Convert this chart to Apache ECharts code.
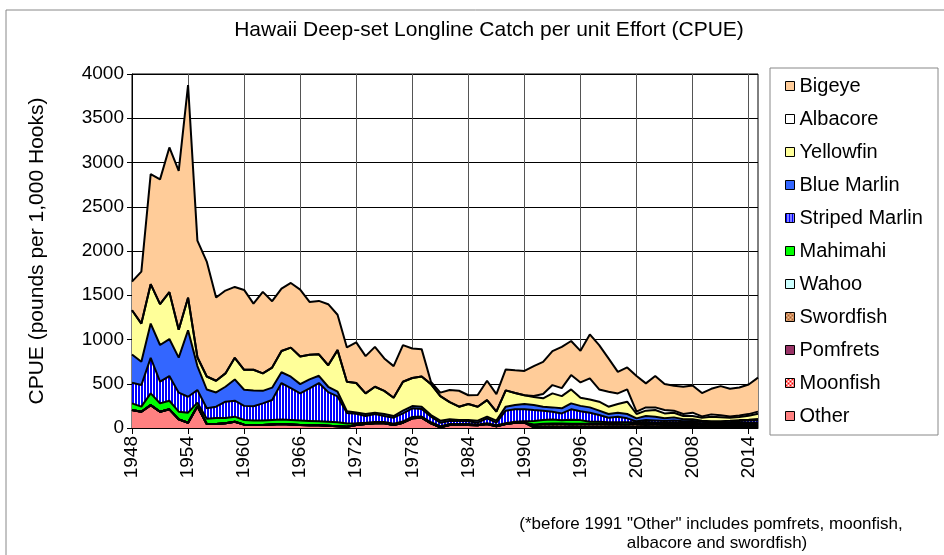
<!DOCTYPE html>
<html>
<head>
<meta charset="utf-8">
<script src="https://cdn.jsdelivr.net/npm/echarts@6/dist/echarts.min.js"></script>
<style>
  html, body { margin: 0; padding: 0; background: #fff; }
  #chart { width: 944px; height: 555px; }
</style>
</head>
<body>
<div id="chart"></div>
<script>
// years on the x axis
const years = []
for (let y = 1948; y <= 2015; y++) years.push(String(y))

const yTicks = [0, 500, 1000, 1500, 2000, 2500, 3000, 3500, 4000]

// CPUE per species (pounds per 1,000 hooks), 1948..2015
const other = [203,184,259,184,211,98,60,245,45,45, 53,71,38,35,35,40,45,40,35,30, 30,25,20,15,34,45,53,53,34,60, 109,117,53,8,34,34,34,30,45,20, 45,60,60,
  5,6,5,4,5,5,4,4,3,4, 3,3,3,3,2,3,3,2,2,3, 2,2,3,3,3]
const moonfish = [0,0,0,0,0,0,0,0,0,0, 0,0,0,0,0,0,0,0,0,0, 0,0,0,0,0,0,0,0,0,0, 0,0,0,0,0,0,0,0,0,0, 0,0,0,
  5,6,5,6,7,6,6,5,6,5, 6,7,8,7,8,6,7,8,6,7, 7,8,7,8,9]
const pomfrets = [0,0,0,0,0,0,0,0,0,0, 0,0,0,0,0,0,0,0,0,0, 0,0,0,0,0,0,0,0,0,0, 0,0,0,0,0,0,0,0,0,0, 0,0,0,
  4,5,6,5,6,7,6,8,7,8, 9,10,12,11,12,13,12,14,13,12, 14,13,15,14,16]
const swordfish = [0,0,0,0,0,0,0,0,0,0, 0,0,0,0,0,0,0,0,0,0, 0,0,0,0,0,0,0,0,0,0, 0,0,0,0,0,0,0,0,0,0, 0,0,0,
  18,22,25,24,20,22,24,26,22,20, 18,22,20,18,16,18,16,15,14,16, 15,14,16,15,16]
const wahoo = [0,0,0,0,0,0,0,0,0,0, 0,0,0,0,0,0,0,0,0,0, 0,0,0,0,0,0,0,0,0,0, 0,0,0,0,0,0,0,0,0,0, 0,0,0,
  8,10,9,11,10,9,8,7,8,9, 7,8,6,7,8,7,6,7,6,5, 6,7,6,6,7]
const mahimahi = [75,57,132,94,97,86,113,41,60,68, 60,57,52,50,50,50,50,50,50,50, 45,45,45,35,20,15,15,15,15,15, 15,13,12,12,11,11,11,10,10,10, 10,10,15,
  40,42,45,38,44,40,22,20,18,20, 22,15,18,16,14,15,12,14,12,13, 12,14,12,13,12]
const stripedMarlin = [233,244,402,245,279,215,180,144,119,128, 184,180,160,160,193,226,413,361,306,367, 433,335,292,120,106,75,90,67,68,90, 98,84,63,40,34,34,30,20,54,30, 141,141,136,
  123,105,89,77,119,101,103,77,51,62, 44,10,23,23,20,23,19,20,18,5, 5,8,20,25,28]
const blueMarlin = [319,263,387,415,418,396,752,270,211,161, 169,241,182,180,142,140,122,129,105,102, 82,61,53,20,15,23,15,23,18,31,
  26,27,19,23,19,11,15,23,19,23, 45,48,60,56,45,49,57,67,60,60, 49,43,45,49,34,45,43,29,35,23, 18,10,15,15,15,10,10,10]
const yellowfin = [500,432,445,462,530,315,367,100,147,132, 151,244,226,233,197,227,240,328,312,278, 243,243,470,333,333,233,293,262,207,327,
  317,342,349,277,194,151,181,157,187,101, 184,136,99,91,94,158,138,158,93,90, 101,83,98,139,49,61,75,56,53,37, 37,35,50,45,35,35,45,60]
const albacore = [0,0,0,0,0,0,0,0,0,0, 0,0,0,0,0,0,0,0,0,0, 0,0,0,0,0,0,0,0,0,0, 0,0,0,0,0,0,0,0,0,0, 0,0,0,
  12,50,94,90,162,172,237,139,169,120, 139,26,37,30,38,23,23,38,15,28, 22,15,18,18,24]
const bigeye = [324,587,1244,1409,1635,1796,2403,1317,1298,940, 936,801,902,748,921,750,705,731,756,598, 603,690,400,387,460,421,451,366,357,413,
  334,308,24,40,137,180,99,132,219,199, 237,257,275,337,363,384,467,385,357,497, 500,376,244,248,403,271,354,293,281,308, 307,264,289,330,312,316,335,384]

// fill patterns
function makePattern(w, h, draw) {
  const c = document.createElement('canvas')
  c.width = w
  c.height = h
  draw(c.getContext('2d'))
  return { image: c, repeat: 'repeat' }
}
const stripedFill = makePattern(3, 4, ctx => {
  ctx.fillStyle = '#0000ff'
  ctx.fillRect(0, 0, 3, 4)
  ctx.fillStyle = '#ffffff'
  ctx.fillRect(2, 0, 1, 4)
})
const swordFill = makePattern(4, 4, ctx => {
  ctx.fillStyle = '#f0c090'
  ctx.fillRect(0, 0, 4, 4)
  ctx.fillStyle = '#b06030'
  ctx.fillRect(0, 0, 2, 2)
  ctx.fillRect(2, 2, 2, 2)
})
const moonFill = makePattern(4, 4, ctx => {
  ctx.fillStyle = '#ff0000'
  ctx.fillRect(0, 0, 4, 4)
  ctx.fillStyle = '#ffffff'
  ctx.fillRect(0, 0, 2, 2)
  ctx.fillRect(2, 2, 2, 2)
})

// bottom to top stacking order
const layers = [
  { name: 'Other', data: other, fill: '#ff8080' },
  { name: 'Moonfish', data: moonfish, fill: moonFill },
  { name: 'Pomfrets', data: pomfrets, fill: '#993366' },
  { name: 'Swordfish', data: swordfish, fill: swordFill },
  { name: 'Wahoo', data: wahoo, fill: '#ccffff' },
  { name: 'Mahimahi', data: mahimahi, fill: '#00ff00' },
  { name: 'Striped Marlin', data: stripedMarlin, fill: stripedFill },
  { name: 'Blue Marlin', data: blueMarlin, fill: '#3366ff' },
  { name: 'Yellowfin', data: yellowfin, fill: '#ffff99' },
  { name: 'Albacore', data: albacore, fill: '#ffffff' },
  { name: 'Bigeye', data: bigeye, fill: '#ffcc99' }
]

const font = 'Liberation Sans, Arial, sans-serif'

const chart = echarts.init(document.getElementById('chart'), null, { renderer: 'canvas' })

chart.setOption({
  animation: false,
  backgroundColor: '#fff',
  title: {
    text: 'Hawaii Deep-set Longline Catch per unit Effort (CPUE)',
    left: 484,
    textAlign: 'center',
    top: 15,
    textStyle: { fontFamily: font, fontSize: 21, fontWeight: 'normal', color: '#000' }
  },
  legend: {
    orient: 'vertical',
    left: 785,
    top: 76,
    icon: 'rect',
    itemWidth: 9,
    itemHeight: 9,
    itemGap: 13,
    padding: 0,
    selectedMode: false,
    data: layers.map(l => l.name).reverse(),
    itemStyle: { borderColor: '#000', borderWidth: 1 },
    textStyle: { fontFamily: font, fontSize: 20, color: '#000', lineHeight: 20 }
  },
  grid: {
    left: 132,
    right: 186,
    top: 74,
    bottom: 127,
    show: true,
    borderColor: '#000',
    borderWidth: 1,
    outerBoundsMode: 'none'
  },
  xAxis: {
    type: 'category',
    data: years,
    boundaryGap: false,
    axisLine: { lineStyle: { color: '#000', width: 1 } },
    axisTick: { show: true, interval: 5, length: 6, lineStyle: { color: '#000' } },
    axisLabel: { interval: 5, rotate: 90, margin: 8, fontFamily: font, fontSize: 19, color: '#000' },
    splitLine: { show: true, interval: 5, lineStyle: { color: '#555', width: 1 } }
  },
  yAxis: {
    type: 'value',
    min: yTicks[0],
    max: yTicks[yTicks.length - 1],
    interval: 500,
    name: 'CPUE (pounds per 1,000 Hooks)',
    nameLocation: 'middle',
    nameGap: 84,
    nameTextStyle: { fontFamily: font, fontSize: 21, color: '#000' },
    axisLine: { show: true, lineStyle: { color: '#000', width: 1 } },
    axisTick: { show: true, length: 5, lineStyle: { color: '#000' } },
    axisLabel: { margin: 8, fontFamily: font, fontSize: 19, color: '#000', formatter: v => String(v) },
    splitLine: { show: true, lineStyle: { color: '#000', width: 1 } }
  },
  graphic: [
    {
      type: 'rect',
      shape: { x: 6, y: 10, width: 960, height: 560 },
      style: { fill: 'none', stroke: '#888', lineWidth: 1 },
      z: -1
    },
    {
      type: 'rect',
      shape: { x: 770, y: 68, width: 168, height: 367 },
      style: { fill: '#fff', stroke: '#888', lineWidth: 1 },
      z: 0
    },
    {
      type: 'text',
      x: 711,
      y: 524,
      style: {
        text: '(*before 1991 "Other" includes pomfrets, moonfish,',
        fontFamily: font, fontSize: 17, fill: '#000', textAlign: 'center', textVerticalAlign: 'middle'
      }
    },
    {
      type: 'text',
      x: 717,
      y: 543,
      style: {
        text: 'albacore and swordfish)',
        fontFamily: font, fontSize: 17, fill: '#000', textAlign: 'center', textVerticalAlign: 'middle'
      }
    }
  ],
  series: layers.map(l => ({
    name: l.name,
    type: 'line',
    stack: 'cpue',
    data: l.data,
    symbol: 'none',
    showSymbol: false,
    lineStyle: { color: '#000', width: 2 },
    itemStyle: { color: l.fill },
    areaStyle: { color: l.fill, opacity: 1 },
    emphasis: { disabled: true }
  }))
})
</script>
</body>
</html>
